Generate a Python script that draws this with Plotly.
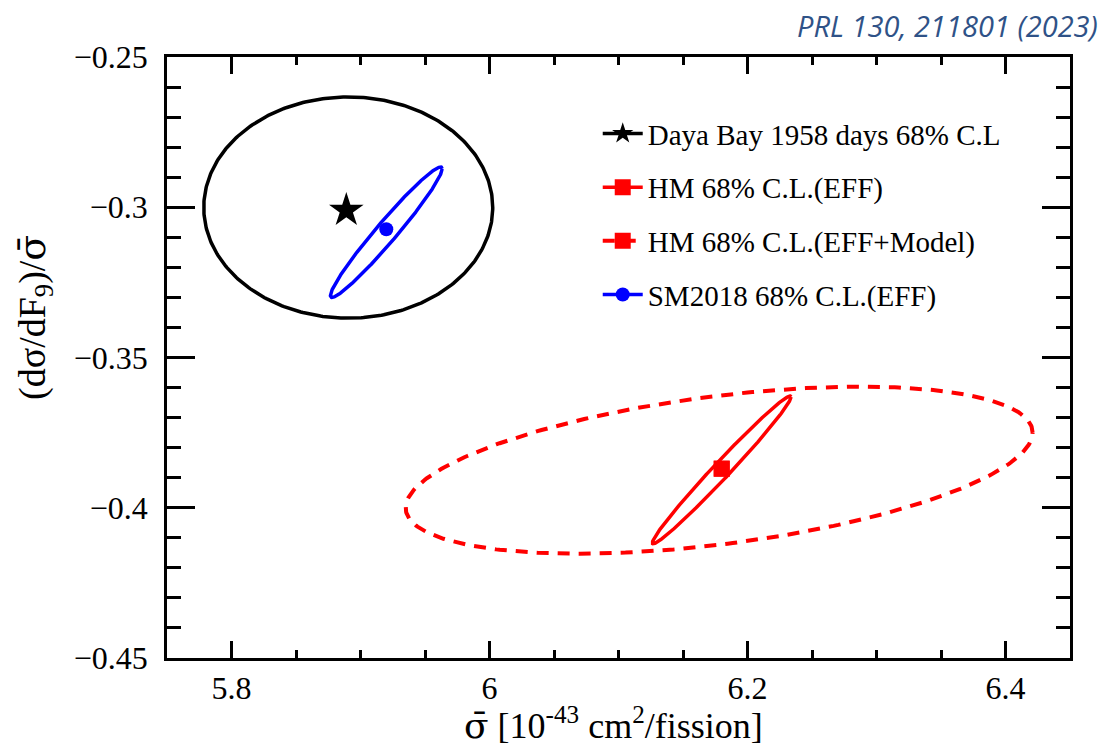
import numpy as np
import plotly.graph_objects as go

# --- data -------------------------------------------------------------------
labels = [
    "Daya Bay 1958 days 68% C.L",
    "HM 68% C.L.(EFF)",
    "HM 68% C.L.(EFF+Model)",
    "SM2018 68% C.L.(EFF)",
]
# best-fit points
best_x = [5.889, 6.180, 6.180, 5.920]
best_y = [-0.301, -0.387, -0.387, -0.3073]
# 68% C.L. contours: centre, half extents along x / y, correlation
ell_cx = [5.8905, 6.180, 6.178, 5.920]
ell_cy = [-0.3001, -0.3874, -0.3875, -0.3083]
ell_hx = [0.112, 0.0538, 0.243, 0.0433]
ell_hy = [0.0368, 0.0246, 0.0278, 0.0217]
ell_rho = [0.0, 0.987, 0.45, 0.971]

x_tickvals = [5.8, 6.0, 6.2, 6.4]
x_ticktext = ["5.8", "6", "6.2", "6.4"]
y_tickvals = [-0.45, -0.40, -0.35, -0.30, -0.25]
y_ticktext = ["\u22120.45", "\u22120.4", "\u22120.35", "\u22120.3", "\u22120.25"]

# --- styles -----------------------------------------------------------------
colors = ["#000000", "#ff0000", "#ff0000", "#0000ff"]
dashes = ["solid", "solid", "12px,9px", "solid"]
symbols = ["star", "square", "square", "circle"]
msizes = [26, 16, 16, 14]
lwidths = [3.5, 3.5, 4, 3.5]

FONT = "Liberation Serif"
SIGMA_BAR = "<span style=\"font-family:'DejaVu Serif'\">σ\u0304</span>"


def contour(cx, cy, hx, hy, rho, n=400):
    """Correlated error ellipse: x = cx + hx cos t, y = cy + hy cos(t - d)."""
    t = np.linspace(0.0, 2.0 * np.pi, n)
    d = np.arccos(rho)
    return cx + hx * np.cos(t), cy + hy * np.cos(t - d)


fig = go.Figure()

for i, name in enumerate(labels):
    ex, ey = contour(ell_cx[i], ell_cy[i], ell_hx[i], ell_hy[i], ell_rho[i])
    fig.add_trace(go.Scatter(
        x=ex, y=ey, mode="lines",
        line=dict(color=colors[i], width=lwidths[i], dash=dashes[i]),
        showlegend=False, hoverinfo="skip",
    ))

# best-fit markers (single point, carries the legend entry line + marker)
for i, name in enumerate(labels):
    fig.add_trace(go.Scatter(
        x=[best_x[i]], y=[best_y[i]], mode="lines+markers", name=name,
        legendgroup=str(i),
        line=dict(color=colors[i], width=lwidths[i], dash=dashes[i]),
        marker=dict(symbol=symbols[i], size=msizes[i], color=colors[i],
                    line=dict(width=0)),
    ))

axis_common = dict(
    showline=True, linecolor="black", linewidth=2.5, mirror="allticks",
    ticks="inside", tickwidth=2.5, tickcolor="black",
    showgrid=False, zeroline=False,
    tickfont=dict(family=FONT, size=32, color="black"),
)

fig.update_xaxes(
    range=[5.75, 6.45], tickmode="array", tickvals=x_tickvals, ticktext=x_ticktext,
    ticklen=17, ticklabelstandoff=0,
    minor=dict(tickmode="linear", tick0=5.75, dtick=0.05, ticklen=8.5,
               tickwidth=2.5, tickcolor="black", ticks="inside", showgrid=False),
    **axis_common,
)
fig.update_yaxes(
    range=[-0.45, -0.25], tickmode="array", tickvals=y_tickvals, ticktext=y_ticktext,
    ticklen=28, ticklabelstandoff=10,
    minor=dict(tickmode="linear", tick0=-0.45, dtick=0.01, ticklen=14,
               tickwidth=2.5, tickcolor="black", ticks="inside", showgrid=False),
    **axis_common,
)

fig.add_annotation(
    text=SIGMA_BAR + " [10<sup>-43</sup> cm<sup>2</sup>/fission]",
    xref="paper", yref="paper", x=0.494, y=0, yshift=-41,
    xanchor="center", yanchor="top", showarrow=False,
    font=dict(family=FONT, size=36, color="black"),
)
fig.add_annotation(
    text="(dσ/dF<sub>9</sub>)/" + SIGMA_BAR,
    xref="paper", yref="paper", x=-0.146, y=0.566,
    xanchor="center", yanchor="middle", textangle=-90, showarrow=False,
    font=dict(family=FONT, size=38, color="black"),
)
fig.add_annotation(
    text="<i>PRL 130, 211801 (2023)</i>",
    xref="paper", yref="paper", x=1.033, y=1.053,
    xanchor="right", yanchor="middle", showarrow=False,
    font=dict(family="Open Sans", size=29, color="#2f5287"),
)

fig.update_layout(
    width=1107, height=750,
    margin=dict(l=167, r=37, t=57, b=92),
    paper_bgcolor="white", plot_bgcolor="white",
    font=dict(family=FONT, color="black"),
    legend=dict(
        x=0.477, y=0.915, xanchor="left", yanchor="top",
        bgcolor="rgba(0,0,0,0)", borderwidth=0,
        font=dict(family=FONT, size=29, color="black"),
        tracegroupgap=13, itemwidth=40,
    ),
    showlegend=True,
)

fig.write_html("out.html")
